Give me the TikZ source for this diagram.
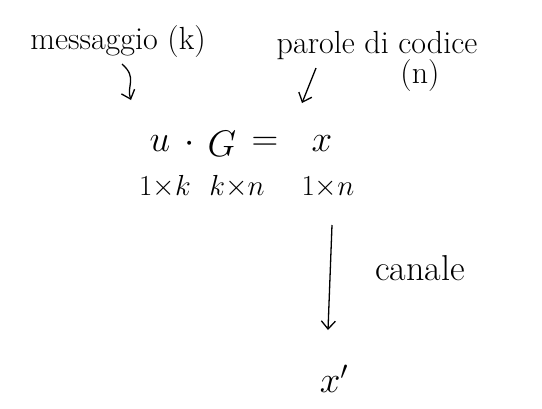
\RequirePackage{fix-cm}
\documentclass[tikz,border=0pt]{standalone}
\usetikzlibrary{arrows.meta}
\begin{document}
\begin{tikzpicture}[x=1pt,y=-1pt,
  lbl/.style={font=\fontsize{32}{34}\selectfont, inner sep=0pt},
  eq/.style={font=\fontsize{37}{39}\selectfont, inner sep=0pt},
  dim/.style={font=\fontsize{29}{31}\selectfont, inner sep=0pt},
  conn/.style={line width=1.3pt, -{Straight Barb[length=8pt,width=14pt]}}]
\useasboundingbox (0,0) rectangle (542,408);
\node[lbl] (msg) at (118,42) {messaggio (k)};
\node[lbl] (par) at (377,46) {parole di codice};
\node[lbl] (n) at (420,76) {(n)};
\node[eq] (u) at (160,144) {$u$};
\node[eq] (dot) at (190,144) {$\cdot$};
\node[eq] (G) at (222,144) {$G$};
\node[eq] (eqs) at (265,144) {$=$};
\node[eq] (x) at (322,144) {$x$};
\node[dim] (d1) at (165,187) {$1{\times}k$};
\node[dim] (d2) at (237,187) {$k{\times}n$};
\node[dim] (d3) at (328,187) {$1{\times}n$};
\node[eq] (xp) at (334,379) {$x'$};
\node[lbl, font=\fontsize{36}{38}\selectfont] (can) at (420,268) {canale};
\coordinate (a1) at (122,64);
\coordinate (a2) at (131,100);
\draw[conn] (a1) .. controls (138,78) and (126,86) .. (a2);
\coordinate (b1) at (316,68);
\coordinate (b2) at (302,103);
\draw[conn] (b1) -- (b2);
\coordinate (c1) at (332,225);
\coordinate (c2) at (328,330);
\draw[conn] (c1) -- (c2);
\end{tikzpicture}
\end{document}
